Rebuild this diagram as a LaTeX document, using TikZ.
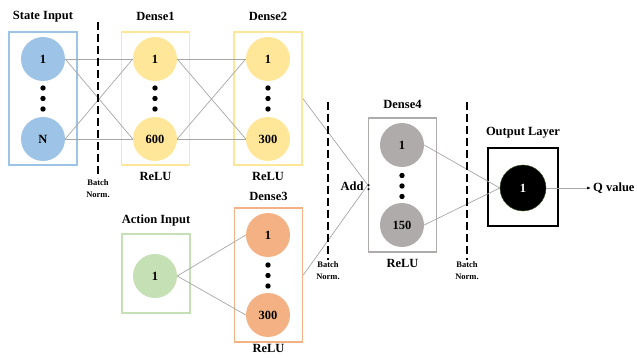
\documentclass[tikz,border=0pt]{standalone}
\usepackage{fontspec}
\setmainfont{Liberation Serif}
\usetikzlibrary{positioning,arrows.meta}
\definecolor{inblue}{HTML}{9DC3E6}
\definecolor{dyellow}{HTML}{FFE699}
\definecolor{dorange}{HTML}{F4B183}
\definecolor{agreen}{HTML}{C5E0B4}
\definecolor{dgray}{HTML}{AFABAB}
\definecolor{linkgray}{HTML}{A6A6A6}
\definecolor{outrim}{HTML}{375623}
\begin{document}
\begin{tikzpicture}[x=1pt,y=-1pt,
    every node/.style={font=\fontsize{12.5}{14}\selectfont\bfseries},
    neuron/.style={circle,minimum size=44pt,inner sep=0pt},
    layerbox/.style={draw,line width=1.6pt,minimum width=68pt,minimum height=133pt,inner sep=0pt},
    link/.style={draw=linkgray,line width=0.7pt},
    bnorm/.style={line width=1.8pt,dash pattern=on 8pt off 4pt},
    bnlabel/.style={align=center,font=\fontsize{8.5}{12}\selectfont\bfseries,inner sep=1pt}]
    \useasboundingbox (0,0) rectangle (637,358);
    % layer boxes
    \node[layerbox,draw=inblue] (sbox) at (43,98.5) {};
    \node[layerbox,draw=dyellow] (d1box) at (155.5,98.5) {};
    \node[layerbox,draw=dyellow] (d2box) at (268,98.5) {};
    \node[layerbox,draw=dorange,minimum height=134pt] (d3box) at (268.5,275) {};
    \node[layerbox,draw=agreen,minimum height=79pt] (abox) at (156,273.5) {};
    \node[layerbox,draw=dgray,minimum height=134pt] (d4box) at (402.5,185) {};
    \node[layerbox,draw=black,line width=2pt,minimum width=70pt,minimum height=78pt] (obox) at (523,187) {};
    % titles
    \node[above=6pt of sbox] {State Input};
    \node[above=7pt of d1box] {Dense1};
    \node[above=7pt of d2box] {Dense2};
    \node[above=3pt of d3box] {Dense3};
    \node[above=4pt of abox] {Action Input};
    \node[above=5pt of d4box] {Dense4};
    \node[above=5pt of obox] {Output Layer};
    \node[below=3pt of d1box] {ReLU};
    \node[below=3pt of d2box] {ReLU};
    \node[below=0pt of d3box,inner sep=1pt] {ReLU};
    \node[below=3pt of d4box] {ReLU};
    % neurons
    \node[neuron,fill=inblue] (s1) at (43,59) {1};
    \node[neuron,fill=inblue] (sN) at (43,139) {N};
    \node[neuron,fill=dyellow] (a1) at (155,59) {1};
    \node[neuron,fill=dyellow] (a600) at (155,139) {600};
    \node[neuron,fill=dyellow] (b1) at (268,59) {1};
    \node[neuron,fill=dyellow] (b300) at (268,139) {300};
    \node[neuron,fill=agreen] (act) at (155,276) {1};
    \node[neuron,fill=dorange] (c1) at (268,235) {1};
    \node[neuron,fill=dorange] (c300) at (268,315) {300};
    \node[neuron,fill=dgray] (e1) at (402,145) {1};
    \node[neuron,fill=dgray] (e150) at (402,225) {150};
    \node[neuron,fill=black,draw=outrim,text=white,minimum size=46pt] (q) at (523,188) {1};
    \foreach \x/\y in {43/98.5,155/98.5,268/98.5,268/275.5,402/186}
        \foreach \d in {-10.5,0,10.5}
            \fill (\x,\y+\d) circle (2.7);
    % connections
    \foreach \i in {s1,sN}
        \foreach \j in {a1,a600}
            \draw[link] (\i.east) -- (\j.west);
    \foreach \i in {a1,a600}
        \foreach \j in {b1,b300}
            \draw[link] (\i.east) -- (\j.west);
    \draw[link] (act.east) -- (c1.west);
    \draw[link] (act.east) -- (c300.west);
    \draw[link] (d2box.east) -- (d4box.west);
    \draw[link] (d3box.east) -- (d4box.west);
    \draw[link] (e1.east) -- (q.west);
    \draw[link] (e150.east) -- (q.west);
    \node[anchor=east,inner sep=0pt] (add) at (371,186) {Add :};
    \node[anchor=west,inner sep=2pt] (qv) at (591,188) {Q value};
    \draw[draw=linkgray,line width=0.7pt,-{Latex[length=4pt,width=3pt,color=black]}] (q.east) -- (qv.west);
    % batch norm
    \draw[bnorm] (98,22) -- (98,178) node[bnlabel,below] {Batch\\Norm.};
    \draw[bnorm] (328,102) -- (328,260) node[bnlabel,below] {Batch\\Norm.};
    \draw[bnorm] (467,102) -- (467,260) node[bnlabel,below] {Batch\\Norm.};
\end{tikzpicture}
\end{document}
